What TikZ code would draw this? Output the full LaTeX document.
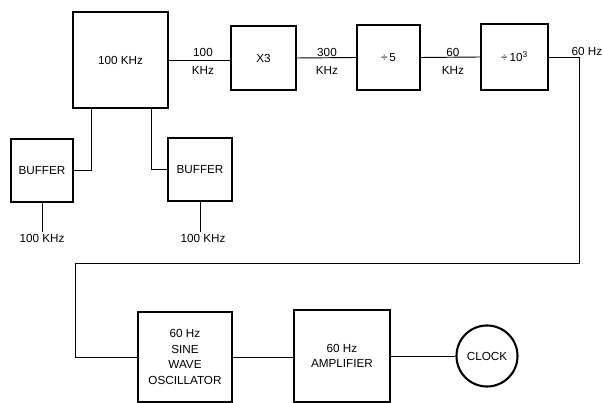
\documentclass[tikz,border=0pt]{standalone}
\usepackage{fontspec}
\setmainfont{Liberation Sans}
\begin{document}
\begin{tikzpicture}[
        x=0.03cm, y=-0.03cm,
        box/.style={draw, rectangle, line width=1.8pt, align=center, inner sep=0pt, font=\fontsize{10}{13.5}\selectfont},
        wire/.style={line width=0.8pt},
        lbl/.style={inner sep=1pt, font=\fontsize{10}{11}\selectfont}
    ]
        \useasboundingbox (0,0) rectangle (603,403);

        \node[box, minimum width=2.85cm, minimum height=2.88cm] (src) at (120.5, 60) {100 KHz};
        \node[box, minimum width=1.95cm, minimum height=1.92cm] (mult) at (263.5, 58) {X3};
        \node[box, minimum width=1.9cm, minimum height=1.95cm] (divfive) at (388.5, 57.5) {÷\,5};
        \node[box, minimum width=2.0cm, minimum height=1.98cm] (divk) at (514.5, 57) {÷\,10\textsuperscript{3}};

        \node[box, minimum width=1.88cm, minimum height=1.9cm] (bufl) at (42, 170.5) {BUFFER};
        \node[box, minimum width=1.92cm, minimum height=1.9cm] (bufr) at (200, 169.5) {BUFFER};

        \node[box, minimum width=2.82cm, minimum height=2.7cm] (osc) at (185, 357) {60 Hz\\SINE\\WAVE\\OSCILLATOR};
        \node[box, minimum width=2.88cm, minimum height=2.76cm] (amp) at (342, 356) {60 Hz\\AMPLIFIER};
        \node[box, circle, minimum size=1.83cm] (clock) at (487, 356) {CLOCK};

        \node[lbl] (fa) at (203, 52) {100};
        \node[lbl] (fb) at (203, 70) {KHz};
        \node[lbl] (fc) at (327, 52) {300};
        \node[lbl] (fd) at (327, 70) {KHz};
        \node[lbl] (fe) at (453, 52) {60};
        \node[lbl] (ff) at (453, 70) {KHz};
        \node[lbl] (fg) at (587, 51) {60 Hz};
        \node[lbl] (outl) at (42, 238) {100 KHz};
        \node[lbl] (outr) at (203, 238) {100 KHz};

        \coordinate (turnr) at (579, 263);
        \coordinate (turnl) at (75, 263);

        \draw[wire] (src.east) -- (mult.west |- src.east);
        \draw[wire] (mult.east) -- (divfive.west);
        \draw[wire] (divfive.east) -- (divk.west);
        \draw[wire] (divk.east) -| (turnr) -- (turnl) |- (osc.west);
        \draw[wire] ([xshift=0.6cm]src.south west) |- (bufl.east);
        \draw[wire] ([xshift=-0.54cm]src.south east) |- (bufr.west);
        \draw[wire] (bufl.south) -- (outl.north);
        \draw[wire] (bufr.south) -- (outr.north -| bufr.south);
        \draw[wire] (osc.east) -- (amp.west |- osc.east);
        \draw[wire] (amp.east) -- (clock.west);
    \end{tikzpicture}
\end{document}
